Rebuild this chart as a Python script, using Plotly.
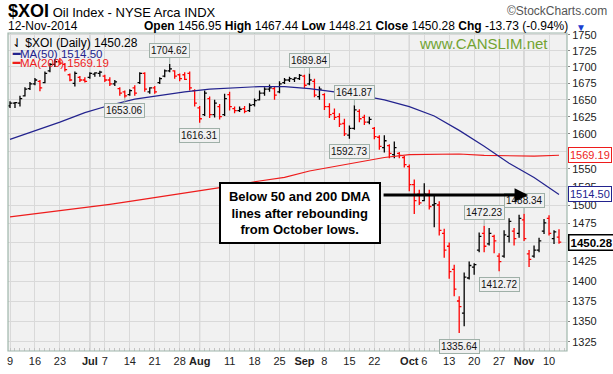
import math
import pandas as pd
import plotly.graph_objects as go

# ---------------- data ----------------
holidays = ["2014-07-04", "2014-09-01"]
dates = [d.strftime("%Y-%m-%d") for d in pd.bdate_range("2014-06-09", "2014-11-12")
         if d.strftime("%Y-%m-%d") not in holidays]

opens = [1641, 1645, 1645, 1656, 1667, 1674, 1678, 1676, 1694, 1704,
         1708, 1704, 1688, 1675, 1684, 1680, 1684, 1689, 1690, 1686,
         1680, 1674, 1667, 1662, 1658, 1668, 1676, 1690, 1662, 1668,
         1676, 1686, 1694, 1694, 1688, 1688, 1690, 1664, 1638, 1628,
         1652, 1628, 1640, 1628, 1658, 1637, 1634, 1637, 1634, 1643,
         1650, 1660, 1666, 1667, 1662, 1676, 1680, 1681, 1682, 1686,
         1674, 1678, 1655, 1658, 1640, 1630, 1625, 1615, 1598, 1608,
         1633, 1624, 1617, 1608, 1595, 1580, 1583, 1570, 1572, 1566,
         1553, 1528, 1515, 1506, 1515, 1500, 1500, 1462, 1445, 1415,
         1375, 1360, 1404, 1418, 1440, 1462, 1448, 1458, 1432, 1432,
         1458, 1465, 1462, 1480, 1435, 1432, 1440, 1465, 1482, 1455,
         1456.95]
highs = [1648, 1647, 1656, 1669, 1677, 1683, 1680, 1693, 1706, 1712,
         1714, 1706, 1690, 1693, 1686, 1684, 1692, 1692, 1694, 1688,
         1684, 1680, 1669, 1664, 1666, 1672, 1692, 1692, 1669, 1671,
         1684, 1696, 1704.62, 1695, 1690, 1692, 1693, 1666, 1641, 1664,
         1655, 1650, 1644, 1659, 1662, 1640, 1640, 1641, 1645, 1652,
         1664, 1669, 1673, 1670, 1678, 1683, 1685, 1684, 1689, 1688,
         1689.84, 1682, 1670, 1660, 1645, 1637, 1630, 1622, 1612, 1641.87,
         1636, 1628, 1625, 1610, 1598, 1598, 1585, 1589, 1574, 1568,
         1556, 1535, 1521, 1530, 1521, 1514, 1505, 1468, 1450, 1421,
         1381, 1411, 1425, 1423, 1463, 1472.23, 1469, 1460, 1436, 1466,
         1482, 1469, 1487, 1488.34, 1440, 1446, 1456, 1481, 1486, 1466,
         1467.44]
lows = [1638, 1638, 1640, 1655, 1665, 1672, 1663, 1675, 1692, 1700,
        1703, 1693, 1678, 1670, 1677, 1676, 1682, 1685, 1685, 1677,
        1671, 1671, 1656, 1653.06, 1656, 1656, 1674, 1662, 1659, 1659,
        1674, 1684, 1692, 1682, 1678, 1680, 1664, 1640, 1616.31, 1626,
        1623, 1624, 1621, 1626, 1634, 1630, 1632, 1630, 1632, 1640,
        1649, 1656, 1662, 1650, 1660, 1674, 1677, 1677, 1680, 1668,
        1672, 1654, 1650, 1635, 1623, 1620, 1610, 1597, 1592.73, 1606,
        1617, 1613, 1614, 1592, 1577, 1573, 1565, 1565, 1565, 1552,
        1519, 1488, 1500, 1505, 1494, 1470, 1459, 1430, 1403, 1381,
        1335.64, 1344, 1402, 1408, 1437, 1437, 1446, 1436, 1412.72, 1430,
        1450, 1446, 1456, 1452, 1418, 1430, 1437, 1461, 1459, 1448,
        1448.21]
closes = [1645, 1646, 1652, 1666, 1674, 1680, 1668, 1690, 1704, 1708,
          1706, 1696, 1680, 1690, 1680, 1678, 1690, 1691, 1692, 1680,
          1674, 1677, 1660, 1656, 1664, 1660, 1690, 1666, 1668, 1662,
          1682, 1694, 1697, 1686, 1682, 1681, 1668, 1645, 1622, 1660,
          1628, 1645, 1625, 1652, 1640, 1634, 1636, 1633, 1642, 1649,
          1660, 1666, 1668, 1657, 1674, 1680, 1682, 1683, 1687, 1672,
          1680, 1657, 1666, 1640, 1628, 1624, 1614, 1600, 1608, 1635,
          1622, 1617, 1621, 1596, 1582, 1590, 1572, 1580, 1569, 1556,
          1528, 1506, 1503, 1515, 1498, 1502, 1466, 1440, 1412, 1390,
          1368, 1405, 1420, 1421, 1458, 1445, 1462, 1452, 1425, 1460,
          1478, 1455, 1482, 1455, 1428, 1440, 1452, 1476, 1462, 1464.01,
          1450.28]

# moving averages read at every 5th session
ma_dates = dates[::5]
ma50 = [1592, 1604, 1617, 1631, 1642, 1651, 1657, 1662, 1666, 1668,
        1670, 1670, 1667, 1662, 1657, 1650, 1640, 1626, 1605, 1582,
        1558, 1538, 1514.50]
ma200 = [1484, 1488, 1492, 1496, 1501, 1506, 1511, 1517, 1522, 1527,
         1533, 1538, 1547, 1553, 1559, 1566, 1570, 1571, 1571, 1569,
         1568, 1568, 1569.19]

# swing-point labels
swing_dates = ["2014-07-11", "2014-07-24", "2014-08-01", "2014-09-03", "2014-09-15",
               "2014-09-16", "2014-10-15", "2014-10-22", "2014-10-27", "2014-11-03"]
swing_values = [1653.06, 1704.62, 1616.31, 1689.84, 1592.73,
                1641.87, 1335.64, 1472.23, 1412.72, 1488.34]
swing_kinds = ["low", "high", "low", "high", "low", "high", "low", "high", "low", "high"]

tick_dates = ["2014-06-09", "2014-06-16", "2014-06-23", "2014-07-01", "2014-07-07",
              "2014-07-14", "2014-07-21", "2014-07-28", "2014-08-01", "2014-08-11",
              "2014-08-18", "2014-08-25", "2014-09-02", "2014-09-08", "2014-09-15",
              "2014-09-22", "2014-10-01", "2014-10-06", "2014-10-13", "2014-10-20",
              "2014-10-27", "2014-11-03", "2014-11-10"]
tick_text = ["9", "16", "23", "<b>Jul</b>", "7", "14", "21", "28", "<b>Aug</b>", "11",
             "18", "25", "<b>Sep</b>", "8", "15", "22", "<b>Oct</b>", "6", "13", "20",
             "27", "<b>Nov</b>", "10"]
month_dates = ["2014-07-01", "2014-08-01", "2014-09-02", "2014-10-01", "2014-11-03"]
price_ticks = list(range(1325, 1751, 25))
hidden_price_labels = [1450]   # covered by the last-close box in the reference

# ---------------- geometry ----------------
W, H = 613, 374
L, R, T, B = 7, 46, 33, 17
PW, PH = W - L - R, H - T - B
FONT = "Arial, Liberation Sans, sans-serif"


def pxx(p):
    return (p - L) / PW


def pxy(p):
    return (T + PH - p) / PH


xs = list(range(len(dates)))
idx = {d: i for i, d in enumerate(dates)}

up = [i for i in xs if i == 0 or closes[i] >= closes[i - 1]]
dn = [i for i in xs if i > 0 and closes[i] < closes[i - 1]]

fig = go.Figure()


def ohlc(sel, color):
    return go.Ohlc(
        x=[xs[i] for i in sel],
        open=[opens[i] for i in sel], high=[highs[i] for i in sel],
        low=[lows[i] for i in sel], close=[closes[i] for i in sel],
        increasing=dict(line=dict(color=color, width=1.3)),
        decreasing=dict(line=dict(color=color, width=1.3)),
        tickwidth=0.45, showlegend=False, hoverinfo="skip")


fig.add_trace(go.Scatter(x=[idx[d] for d in ma_dates], y=ma200, mode="lines",
                         line=dict(color="#ee1c1c", width=1.2), showlegend=False, hoverinfo="skip"))
fig.add_trace(go.Scatter(x=[idx[d] for d in ma_dates], y=ma50, mode="lines",
                         line=dict(color="#23238e", width=1.2), showlegend=False, hoverinfo="skip"))
fig.add_trace(ohlc(up, "#000000"))
fig.add_trace(ohlc(dn, "#ff0000"))

shapes = []
for d in month_dates:
    shapes.append(dict(type="line", xref="x", yref="paper", x0=idx[d], x1=idx[d], y0=0, y1=1,
                       line=dict(color="#b4b4b4", width=1), layer="between"))
shapes.append(dict(type="rect", xref="paper", yref="paper", x0=0, x1=1, y0=0, y1=1,
                   line=dict(color="#9fb6ab", width=1.2), layer="above"))

ann = []
# header
ann.append(dict(xref="paper", yref="paper", x=pxx(5), y=pxy(11), xanchor="left", yanchor="middle",
                showarrow=False, font=dict(family=FONT, size=13, color="#000"),
                text="<span style='font-size:18px'><b>$XOI</b></span> Oil Index - NYSE Arca INDX"))
ann.append(dict(xref="paper", yref="paper", x=pxx(609), y=pxy(11), xanchor="right", yanchor="middle",
                showarrow=False, font=dict(family=FONT, size=12, color="#555"),
                text="\u00a9StockCharts.com"))
d_last = pd.Timestamp(dates[-1])
ann.append(dict(xref="paper", yref="paper", x=pxx(5), y=pxy(26), xanchor="left", yanchor="middle",
                showarrow=False, font=dict(family=FONT, size=12, color="#000"),
                text=d_last.strftime("%d-%b-%Y")))
chg = closes[-1] - closes[-2]
pct = chg / closes[-2] * 100
summary = ("<b>Open</b> {:.2f} <b>High</b> {:.2f} <b>Low</b> {:.2f} <b>Close</b> {:.2f} "
           "<b>Chg</b> {:.2f} ({:.2f}%)").format(opens[-1], highs[-1], lows[-1], closes[-1], chg, pct)
ann.append(dict(xref="paper", yref="paper", x=pxx(570), y=pxy(26), xanchor="right", yanchor="middle",
                showarrow=False, font=dict(family=FONT, size=12, color="#000"), text=summary))
ann.append(dict(xref="paper", yref="paper", x=pxx(574), y=pxy(27), xanchor="left", yanchor="middle",
                showarrow=False, font=dict(family=FONT, size=10, color="#1a3fd0"), text="\u25bc"))

# legend inside plot
ann.append(dict(xref="paper", yref="paper", x=pxx(9), y=pxy(43), xanchor="left", yanchor="middle",
                showarrow=False, font=dict(family=FONT, size=12, color="#000"),
                text="\u21c3 $XOI (Daily) {:.2f}".format(closes[-1])))
ann.append(dict(xref="paper", yref="paper", x=pxx(9), y=pxy(54), xanchor="left", yanchor="middle",
                showarrow=False, font=dict(family=FONT, size=11.5, color="#23238e"),
                text="<b>\u2501</b>MA(50) {:.2f}".format(ma50[-1])))
ann.append(dict(xref="paper", yref="paper", x=pxx(9), y=pxy(64), xanchor="left", yanchor="middle",
                showarrow=False, font=dict(family=FONT, size=11.5, color="#ee1c1c"),
                text="<b>\u2501</b>MA(200) {:.2f}".format(ma200[-1])))
# watermark
ann.append(dict(xref="paper", yref="paper", x=pxx(483), y=pxy(44), xanchor="center", yanchor="middle",
                showarrow=False, font=dict(family=FONT, size=15, color="#72a332"),
                text="www.CANSLIM.net"))

# swing labels
for d, v, k in zip(swing_dates, swing_values, swing_kinds):
    ann.append(dict(xref="x", yref="y", x=idx[d], y=math.log10(v), text="{:.2f}".format(v),
                    showarrow=True, arrowhead=0, arrowwidth=1, arrowcolor="#9fb0a8",
                    ax=0, ay=(-13 if k == "high" else 13), standoff=0,
                    font=dict(family=FONT, size=10, color="#111"), bgcolor="#f0f0f0",
                    bordercolor="#9fb0a8", borderwidth=1, borderpad=1))

# comment box + arrow
ann.append(dict(xref="paper", yref="paper", x=pxx(300), y=pxy(216), xanchor="center", yanchor="middle",
                showarrow=False, align="center", width=154, height=54,
                text="<b>Below 50 and 200 DMA<br>lines after rebounding<br>from October lows.</b>",
                font=dict(family=FONT, size=13, color="#000"), bgcolor="#ffffff",
                bordercolor="#000", borderwidth=2, borderpad=2))
ann.append(dict(xref="paper", yref="paper", x=pxx(528), y=pxy(198), ax=-146, ay=0,
                axref="pixel", ayref="pixel", text="", showarrow=True, arrowhead=2, arrowsize=0.9,
                arrowwidth=3, arrowcolor="#000"))

# right-side value boxes
for v, col, bold in [(ma200[-1], "#ee1c1c", False), (ma50[-1], "#23238e", False), (closes[-1], "#000", True)]:
    t = "{:.2f}".format(v)
    ann.append(dict(xref="paper", yref="y", x=1.0, xshift=1, y=math.log10(v), xanchor="left",
                    yanchor="middle", showarrow=False,
                    text=("<b>" + t + "</b>") if bold else t,
                    font=dict(family=FONT, size=11.5 if bold else 11, color=col),
                    bgcolor="#ffffff", bordercolor=col, borderwidth=1.5 if bold else 1, borderpad=1))

fig.update_layout(
    width=W, height=H, margin=dict(l=L, r=R, t=T, b=B),
    paper_bgcolor="#ffffff", plot_bgcolor="#f1f1f1",
    shapes=shapes, annotations=ann, showlegend=False,
    xaxis=dict(range=[-0.4, len(dates) + 0.6], tickmode="array",
               tickvals=[idx[d] for d in tick_dates], ticktext=tick_text,
               showgrid=True, gridcolor="#d9d9d9", gridwidth=1, zeroline=False,
               showline=False, ticks="", ticklabelstandoff=2,
               tickfont=dict(family=FONT, size=11, color="#222"),
               rangeslider=dict(visible=False),
               minor=dict(dtick=1, tick0=0, ticks="inside", ticklen=3, tickcolor="#c4c4c4",
                          showgrid=False)),
    yaxis=dict(type="log", side="right",
               range=[math.log10(1314.1), math.log10(1753.1)],
               tickmode="array", tickvals=price_ticks,
               ticktext=["" if p in hidden_price_labels else str(p) for p in price_ticks],
               showgrid=True, gridcolor="#d9d9d9", zeroline=False, showline=False,
               ticks="outside", ticklen=2, tickcolor="#888",
               tickfont=dict(family=FONT, size=11, color="#222")),
)

fig.write_html("out.html", config={"displayModeBar": False},
               post_script="document.body.style.margin='0px';")
